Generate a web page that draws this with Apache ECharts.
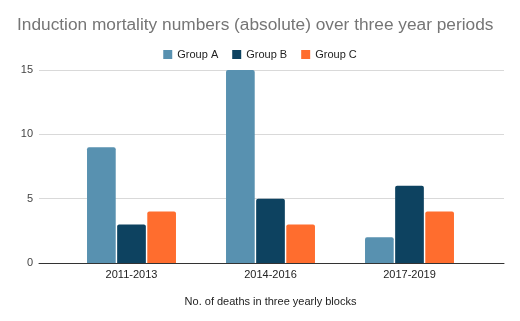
<!DOCTYPE html>
<html>
<head>
<meta charset="utf-8">
<script src="https://cdn.jsdelivr.net/npm/echarts@6/dist/echarts.min.js"></script>
<style>
  html, body { margin: 0; padding: 0; background: #fff; }
  #main { width: 520px; height: 321px; }
</style>
</head>
<body>
<div id="main"></div>
<script>
var myChart = echarts.init(document.getElementById('main'));

var periods = ['2011-2013', '2014-2016', '2017-2019'];
var groupA = [9, 15, 2];
var groupB = [3, 5, 6];
var groupC = [4, 3, 4];

var font = 'Arial, "Liberation Sans", sans-serif';

option = {
    animation: false,
    title: {
        text: 'Induction mortality numbers (absolute) over three year periods',
        left: 17,
        top: 17,
        padding: 0,
        textStyle: {
            color: '#757575',
            fontSize: 17.3,
            fontWeight: 'normal',
            fontFamily: font
        }
    },
    legend: {
        top: 44,
        left: 'center',
        itemWidth: 9,
        itemHeight: 9,
        itemGap: 14,
        icon: 'rect',
        textStyle: { color: '#222', fontSize: 11, fontFamily: font },
        data: ['Group A', 'Group B', 'Group C']
    },
    // outer grid: gridlines and axis line span the whole chart area
    // inner grid: categories are inset like in the original
    grid: [
        { left: 39, right: 16, top: 70, bottom: 58 },
        { left: 62, right: 41, top: 70, bottom: 58 }
    ],
    xAxis: [
        {
            gridIndex: 0,
            type: 'value',
            min: 0,
            max: 1,
            axisLine: { show: true, onZero: false, lineStyle: { color: '#333', width: 1 } },
            axisTick: { show: false },
            axisLabel: { show: false },
            splitLine: { show: false }
        },
        {
            gridIndex: 1,
            type: 'category',
            data: periods,
            name: 'No. of deaths in three yearly blocks',
            nameLocation: 'middle',
            nameGap: 33,
            nameTextStyle: { color: '#222', fontSize: 11, fontFamily: font },
            axisLine: { show: false },
            axisTick: { show: false },
            axisLabel: { color: '#222', fontSize: 11, margin: 6, fontFamily: font }
        }
    ],
    yAxis: [
        {
            gridIndex: 0,
            type: 'value',
            min: 0,
            max: 15,
            interval: 5,
            axisLine: { show: false },
            axisTick: { show: false },
            axisLabel: { color: '#444', fontSize: 11, margin: 6, fontFamily: font },
            splitLine: { lineStyle: { color: '#d9d9d9' } }
        },
        {
            gridIndex: 1,
            type: 'value',
            min: 0,
            max: 15,
            interval: 5,
            show: false
        }
    ],
    series: [
        {
            name: 'Group A',
            type: 'bar',
            xAxisIndex: 1,
            yAxisIndex: 1,
            data: groupA,
            barGap: '5%',
            barCategoryGap: '36%',
            itemStyle: { color: '#5891b0', borderRadius: [2, 2, 0, 0] }
        },
        {
            name: 'Group B',
            type: 'bar',
            xAxisIndex: 1,
            yAxisIndex: 1,
            data: groupB,
            itemStyle: { color: '#0d4260', borderRadius: [2, 2, 0, 0] }
        },
        {
            name: 'Group C',
            type: 'bar',
            xAxisIndex: 1,
            yAxisIndex: 1,
            data: groupC,
            itemStyle: { color: '#ff6d2e', borderRadius: [2, 2, 0, 0] }
        }
    ]
};

myChart.setOption(option);
</script>
</body>
</html>
